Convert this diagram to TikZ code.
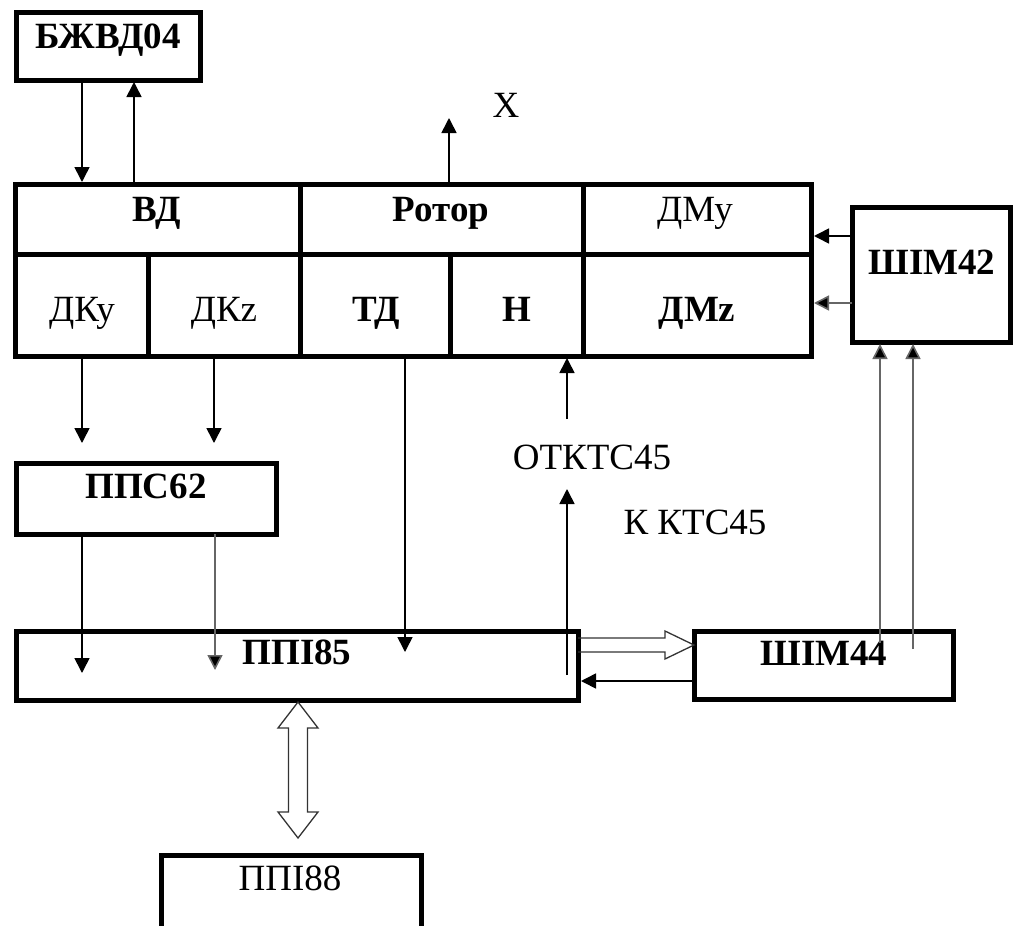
\documentclass[tikz,border=0pt]{standalone}
\usepackage{fontspec}
\setmainfont{Liberation Serif}
\usetikzlibrary{arrows.meta}
\tikzset{
  blk/.style={draw, line width=5pt, inner sep=0pt, outer sep=0pt, anchor=north west},
  lbl/.style={font=\fontsize{37}{40}\selectfont, anchor=base, inner sep=0pt},
  lblb/.style={font=\fontsize{37}{40}\selectfont\bfseries, anchor=base, inner sep=0pt},
  conn/.style={line width=1.6pt, -{Triangle[width=15pt,length=15pt]}},
  conng/.style={conn, draw=black!60, -{Triangle[width=15pt,length=15pt,fill=black]}},
  hollow/.style={line width=1.3pt, line join=miter, draw=black!80},
}
\begin{document}
\begin{tikzpicture}[x=1pt,y=-1pt]
\useasboundingbox (0,0) rectangle (1017,926);
\clip (0,0) rectangle (1017,926);
% boxes
\node[blk, minimum width=184, minimum height=68] (bzh) at (16,12) {};
\node[blk, minimum width=285, minimum height=70] (vd) at (15,184) {};
\node[blk, minimum width=283, minimum height=70] (rotor) at (300,184) {};
\node[blk, minimum width=228, minimum height=70] (dmy) at (583,184) {};
\node[blk, minimum width=133, minimum height=102] (dky) at (15,254) {};
\node[blk, minimum width=152, minimum height=102] (dkz) at (148,254) {};
\node[blk, minimum width=150, minimum height=102] (td) at (300,254) {};
\node[blk, minimum width=133, minimum height=102] (n) at (450,254) {};
\node[blk, minimum width=228, minimum height=102] (dmz) at (583,254) {};
\node[blk, minimum width=158, minimum height=135] (shim42) at (852,207) {};
\node[blk, minimum width=260, minimum height=71] (pps62) at (16,463) {};
\node[blk, minimum width=562, minimum height=69] (ppi85) at (16,631) {};
\node[blk, minimum width=259, minimum height=68] (shim44) at (694,631) {};
\node[blk, minimum width=260, minimum height=100] (ppi88) at (161,855) {};
% labels
\node[lblb] (tbzh) at (108,48) {БЖВД04};
\node[lblb] (tvd) at (157,221) {ВД};
\node[lblb] (trotor) at (441,221) {Ротор};
\node[lbl] (tdmy) at (695,221) {ДМу};
\node[lbl] (tdky) at (82,321) {ДКу};
\node[lbl] (tdkz) at (224,321) {ДКz};
\node[lblb] (ttd) at (376,321) {ТД};
\node[lblb] (tn) at (517,321) {Н};
\node[lblb] (tdmz) at (697,321) {ДМz};
\node[lblb] (tshim42) at (932,274) {ШІМ42};
\node[lblb] (tpps62) at (146,498) {ППС62};
\node[lblb] (tppi85) at (297,664) {ППІ85};
\node[lblb] (tshim44) at (824,665) {ШІМ44};
\node[lbl] (tppi88) at (290,890) {ППІ88};
\node[lbl] (tx) at (506,117) {X};
\node[lbl] (totk) at (592,469) {ОТКТС45};
\node[lbl] (tk) at (695,534) {К КТС45};
% helper coordinates
\coordinate (c82) at (82,0);
\coordinate (c134) at (134,0);
\coordinate (c214) at (214,0);
\coordinate (c215) at (215,0);
\coordinate (c298) at (298,0);
\coordinate (c405) at (405,0);
\coordinate (c449) at (449,0);
\coordinate (c567) at (567,0);
\coordinate (c880) at (880,0);
\coordinate (c913) at (913,0);
\coordinate (r236) at (0,236);
\coordinate (r303) at (0,303);
\coordinate (r638) at (0,638);
\coordinate (r645) at (0,645);
\coordinate (r652) at (0,652);
\coordinate (r681) at (0,681);
\coordinate (xend) at (449,118);
\coordinate (dkyend) at (82,443);
\coordinate (dkzend) at (214,443);
\coordinate (p1end) at (82,673);
\coordinate (p2end) at (215,670);
\coordinate (tdend) at (405,652);
\coordinate (otkstart) at (567,419);
\coordinate (kstart) at (567,675);
\coordinate (kend) at (567,489);
\coordinate (s1start) at (880,643);
\coordinate (s2start) at (913,649);
% connectors
\draw[conn, shorten >=2pt] (bzh.south -| c82) -- (vd.north -| c82);
\draw[conn, shorten >=2pt] (vd.north -| c134) -- (bzh.south -| c134);
\draw[conn] (rotor.north -| c449) -- (xend);
\draw[conn, shorten >=3pt] (shim42.west |- r236) -- (dmy.east |- r236);
\draw[conng, shorten >=3pt] (shim42.west |- r303) -- (dmz.east |- r303);
\draw[conng, shorten >=2pt] (s1start) -- (shim42.south -| c880);
\draw[conng, shorten >=2pt] (s2start) -- (shim42.south -| c913);
\draw[conn] (dky.south -| c82) -- (dkyend);
\draw[conn] (dkz.south -| c214) -- (dkzend);
\draw[conn] (pps62.south -| c82) -- (p1end);
\draw[conng] (pps62.south -| c215) -- (p2end);
\draw[conn] (td.south -| c405) -- (tdend);
\draw[conn, shorten >=2pt] (otkstart) -- (n.south -| c567);
\draw[conn] (kstart) -- (kend);
\draw[conn, shorten >=3pt] (shim44.west |- r681) -- (ppi85.east |- r681);
% hollow arrows
\draw[hollow] (ppi85.east |- r638) -- (665,638) -- (665,631) -- (shim44.west |- r645) -- (665,659) -- (665,652) -- (ppi85.east |- r652);
\draw[hollow] (ppi85.south -| c298) ++(0,2) -- ++(20,26) -- ++(-10.5,0) -- ++(0,84) -- ++(10.5,0) -- ++(-20,26) -- ++(-20,-26) -- ++(10.5,0) -- ++(0,-84) -- ++(-10.5,0) -- cycle;
\end{tikzpicture}
\end{document}
